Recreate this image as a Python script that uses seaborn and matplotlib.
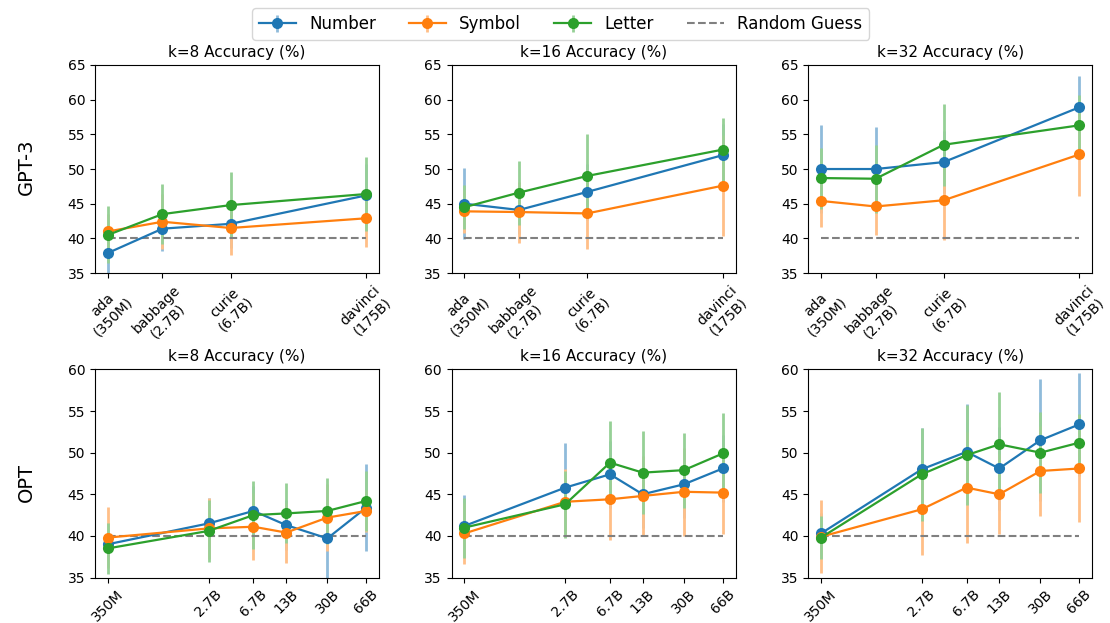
import matplotlib
matplotlib.use("Agg")
import matplotlib.pyplot as plt
import numpy as np
import pandas as pd
import seaborn as sns
from matplotlib.ticker import NullLocator, FixedLocator, FixedFormatter
from matplotlib.lines import Line2D
from matplotlib.colors import to_rgb

# ---------------- data ----------------
series = ["Number", "Symbol", "Letter"]
colors = ["#1f77b4", "#ff7f0e", "#2ca02c"]
shots = [8, 16, 32]

gpt3_size = [0.35, 1.3, 6.7, 175]
gpt3_labels = ["ada\n(350M)", "babbage\n(2.7B)", "curie\n(6.7B)", "davinci\n(175B)"]
opt_size = [0.35, 2.7, 6.7, 13, 30, 66]
opt_labels = ["350M", "2.7B", "6.7B", "13B", "30B", "66B"]

# GPT-3, rows: Number, Symbol, Letter
gpt3_k8_mean = [[37.9, 41.4, 42.1, 46.2],
                [41.0, 42.4, 41.5, 42.9],
                [40.5, 43.5, 44.8, 46.4]]
gpt3_k8_err = [[3.5, 3.2, 3.5, 4.5],
               [2.5, 4.0, 3.9, 4.1],
               [4.1, 4.3, 4.7, 5.4]]
gpt3_k16_mean = [[45.0, 44.1, 46.7, 52.0],
                 [43.9, 43.8, 43.6, 47.6],
                 [44.5, 46.6, 49.0, 52.8]]
gpt3_k16_err = [[5.1, 3.5, 4.0, 4.5],
                [3.1, 4.4, 5.1, 7.3],
                [3.2, 4.6, 6.0, 4.5]]
gpt3_k32_mean = [[50.0, 50.0, 51.0, 58.9],
                 [45.4, 44.6, 45.5, 52.1],
                 [48.7, 48.6, 53.5, 56.3]]
gpt3_k32_err = [[6.3, 6.0, 4.5, 4.5],
                [3.8, 4.1, 5.8, 6.0],
                [4.4, 4.9, 5.9, 4.4]]

# OPT
opt_k8_mean = [[39.0, 41.5, 43.0, 41.3, 39.7, 43.4],
               [39.8, 40.9, 41.1, 40.4, 42.2, 43.0],
               [38.5, 40.6, 42.5, 42.7, 43.0, 44.2]]
opt_k8_err = [[2.5, 3.0, 3.0, 3.0, 5.0, 5.2],
              [3.7, 3.7, 4.0, 3.6, 4.0, 2.5],
              [3.1, 3.7, 4.1, 3.6, 4.0, 3.6]]
opt_k16_mean = [[41.2, 45.8, 47.4, 45.0, 46.2, 48.1],
                [40.3, 44.1, 44.4, 44.8, 45.3, 45.2],
                [41.0, 43.8, 48.8, 47.6, 47.9, 49.9]]
opt_k16_err = [[3.7, 5.4, 4.0, 4.0, 4.0, 4.0],
               [3.7, 3.9, 4.9, 4.8, 5.3, 5.0],
               [3.6, 4.0, 5.0, 5.0, 4.5, 4.9]]
opt_k32_mean = [[40.3, 48.0, 50.1, 48.1, 51.5, 53.4],
                [39.9, 43.2, 45.8, 45.0, 47.8, 48.1],
                [39.8, 47.4, 49.7, 51.0, 50.0, 51.2]]
opt_k32_err = [[2.5, 5.0, 5.7, 5.0, 7.3, 6.2],
               [4.4, 5.5, 6.7, 4.8, 5.4, 6.4],
               [2.6, 5.6, 6.0, 6.3, 4.9, 3.4]]

random_guess = 40

rows = [
    ("GPT-3", gpt3_size, gpt3_labels, [gpt3_k8_mean, gpt3_k16_mean, gpt3_k32_mean],
     [gpt3_k8_err, gpt3_k16_err, gpt3_k32_err], (35, 65)),
    ("OPT", opt_size, opt_labels, [opt_k8_mean, opt_k16_mean, opt_k32_mean],
     [opt_k8_err, opt_k16_err, opt_k32_err], (35, 60)),
]

MS = 8
LW = 1.6


def light(c, a=0.5):
    rgb = np.array(to_rgb(c))
    return tuple(rgb * a + (1 - a))


# ---------------- plot ----------------
fig, axes = plt.subplots(2, 3, figsize=(11.1, 6.23), dpi=100)
fig.subplots_adjust(left=0.0856, right=0.984, top=0.8957, bottom=0.073,
                    wspace=0.255, hspace=0.463)

legend_handles = None
for r, (name, sizes, labels, means, errs, ylim) in enumerate(rows):
    for c, k in enumerate(shots):
        ax = axes[r, c]
        ax.set_xscale("log")
        handles = []
        for s, (sname, col) in enumerate(zip(series, colors)):
            df = pd.DataFrame({"size": sizes, "acc": means[c][s], "err": errs[c][s]})
            ax.errorbar(df["size"], df["acc"], yerr=df["err"], fmt="none",
                        ecolor=light(col), elinewidth=2, capsize=0, zorder=2)
            sns.lineplot(data=df, x="size", y="acc", ax=ax, color=col, marker="o",
                         markersize=MS, markeredgewidth=0, linewidth=LW,
                         legend=False, zorder=3)
            # legend proxy (no visible data)
            proxy = ax.errorbar([np.nan], [np.nan], yerr=[1.0], fmt="-o", color=col,
                                ecolor=light(col), markersize=MS, markeredgewidth=0,
                                linewidth=LW, elinewidth=2, capsize=0)
            handles.append(proxy)
        gdf = pd.DataFrame({"size": [sizes[0], sizes[-1]], "acc": [random_guess] * 2})
        sns.lineplot(data=gdf, x="size", y="acc", ax=ax, color="gray",
                     linestyle="--", linewidth=1.5, legend=False, zorder=2)
        handles.append(Line2D([], [], color="gray", linestyle="--", linewidth=1.5))
        if legend_handles is None:
            legend_handles = handles

        ax.set_ylim(*ylim)
        ax.set_yticks(np.arange(ylim[0], ylim[1] + 1, 5))
        ax.xaxis.set_major_locator(FixedLocator(sizes))
        ax.xaxis.set_major_formatter(FixedFormatter(labels))
        ax.xaxis.set_minor_locator(NullLocator())
        for lab in ax.get_xticklabels():
            lab.set_rotation(45)
            lab.set_ha("center")
            lab.set_multialignment("center")
        ax.tick_params(labelsize=10)
        ax.set_xlabel("")
        ax.set_ylabel("")
        ax.set_title(f"k={k} Accuracy (%)", fontsize=11)

fig.text(0.024, 0.733, "GPT-3", rotation=90, fontsize=14, ha="center", va="center")
fig.text(0.024, 0.225, "OPT", rotation=90, fontsize=14, ha="center", va="center")

fig.legend(legend_handles, series + ["Random Guess"], loc="upper center",
           bbox_to_anchor=(0.505, 1.0), ncol=4, fontsize=12, handlelength=2.2)

fig.savefig("out.png", dpi=100)
